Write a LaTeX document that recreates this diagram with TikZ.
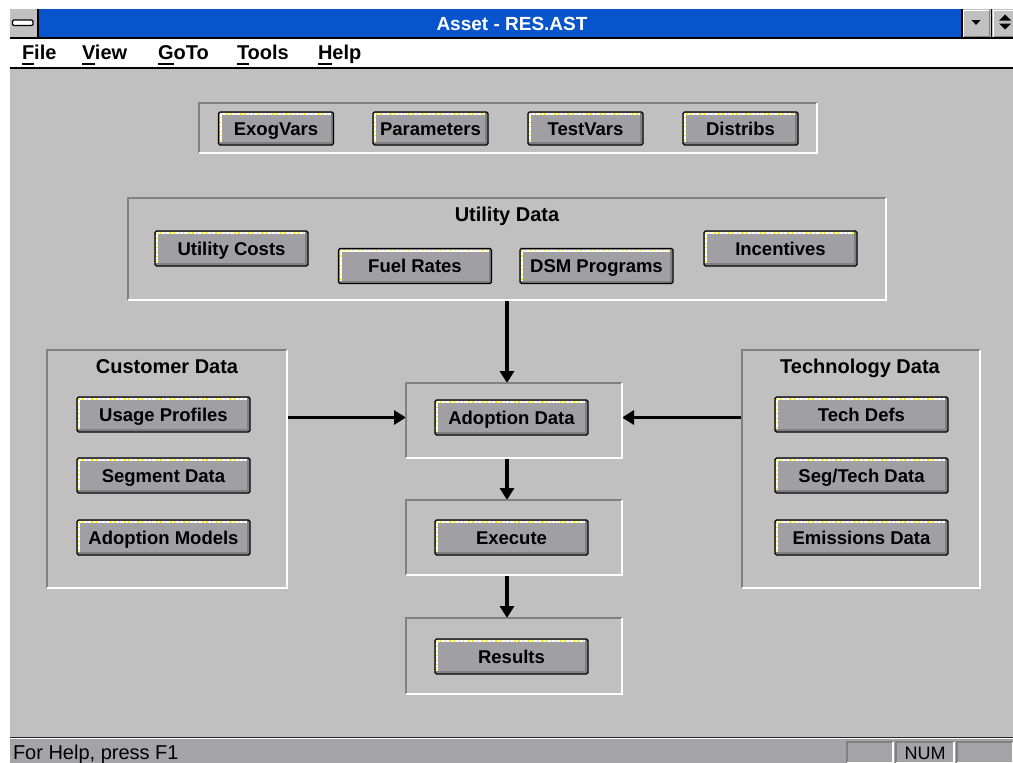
\documentclass[tikz,border=0pt]{standalone}
\usepackage{fontspec}
\setmainfont{Liberation Sans}
\usetikzlibrary{fit,arrows.meta}

\definecolor{facegray}{RGB}{192,192,192}
\definecolor{btnface}{RGB}{160,160,164}
\definecolor{shadowgray}{RGB}{128,128,128}
\definecolor{titleblue}{RGB}{8,84,204}
\definecolor{statusgray}{RGB}{164,164,168}
\definecolor{focusyellow}{RGB}{255,240,0}

% menu entry with its access key underlined
\newcommand\menukey[1]{\setbox0\hbox{#1}\rlap{\rule[-5.5pt]{\wd0}{1.8pt}}#1}

\begin{document}
\begin{tikzpicture}[x=1pt,y=-1pt,
  every node/.style={inner sep=0pt, outer sep=0pt},
  btn/.style={draw=black, line width=1.3pt, fill=btnface, rounded corners=1.5pt,
    font=\bfseries\fontsize{18.5}{20}\selectfont, text height=13.2pt, text depth=0pt,
    path picture={
      \draw[sharp corners, white, line width=2pt]
        ([shift={(2pt,1pt)}]path picture bounding box.south west) |-
        ([shift={(-1pt,-2pt)}]path picture bounding box.north east);
      \draw[sharp corners, shadowgray, line width=2pt]
        ([shift={(1pt,2pt)}]path picture bounding box.south west) -|
        ([shift={(-2pt,-1pt)}]path picture bounding box.north east);
      \draw[sharp corners, focusyellow, line width=1.1pt, dash pattern=on 1.1pt off 3.5pt]
        ([shift={(2pt,4pt)}]path picture bounding box.south west) |-
        ([shift={(-4pt,-2pt)}]path picture bounding box.north east);
    }},
  varsize/.style={minimum width=115pt, minimum height=33pt},
  midsize/.style={minimum width=153pt, minimum height=35pt},
  widesize/.style={minimum width=173pt, minimum height=35pt},
  grp/.style={inner sep=0pt},
  etchdark/.style={draw=shadowgray, line width=2.6pt},
  etchlight/.style={draw=white, line width=2.2pt},
  grptitle/.style={font=\bfseries\fontsize{20}{22}\selectfont, text height=14.3pt, text depth=0pt},
  menuitem/.style={font=\bfseries\fontsize{20}{22}\selectfont, anchor=base west},
  flow/.style={line width=3.6pt, -{Triangle[length=12pt,width=14pt]}},
  panel/.style={draw=none, inner sep=0pt},
]
\useasboundingbox (0,0) rectangle (1013,763);
\fill[white] (0,0) rectangle (1013,763);

% ---- title bar ----
\fill[titleblue] (38,9) rectangle (962,38);
\node[font=\bfseries\fontsize{19}{20}\selectfont, text=white] (caption) at (512,23.5) {Asset - RES.AST};
\fill[facegray] (10,9) rectangle (38,38);
\draw[fill=white, line width=1.3pt, rounded corners=1.2pt] (12.5,20) rectangle (33,25.5);
\fill[facegray] (962,9) rectangle (991,38);
\fill[facegray] (992,9) rectangle (1013,38);
\draw[white, line width=1.2pt] (963.5,37) -- (963.5,10.5) -- (989,10.5);
\draw[shadowgray, line width=1.5pt] (963.5,36.5) -- (989.5,36.5) -- (989.5,10);
\draw[white, line width=1.2pt] (993.5,37) -- (993.5,10.5) -- (1013,10.5);
\draw[shadowgray, line width=1.5pt] (993.5,36.5) -- (1013,36.5);
\fill[black] (971.5,20) -- (980.5,20) -- (976,25) -- cycle;
\fill[black] (999,20.5) -- (1011,20.5) -- (1005,14.5) -- cycle;
\fill[black] (999,23.5) -- (1011,23.5) -- (1005,29.5) -- cycle;
\draw[black, line width=1.2pt] (38,9) -- (38,38);
\draw[black, line width=1.2pt] (962,9) -- (962,38);
\draw[black, line width=1.2pt] (991.5,9) -- (991.5,38);
\draw[black, line width=1.2pt] (10,38) -- (1013,38);

% ---- menu bar ----
\fill[white] (10,38.6) rectangle (1013,67.5);
\node[menuitem] (mfile)  at (22,59)  {\menukey{F}ile};
\node[menuitem] (mview)  at (82,59)  {\menukey{V}iew};
\node[menuitem] (mgoto)  at (158,59) {\menukey{G}oTo};
\node[menuitem] (mtools) at (237,59) {\menukey{T}ools};
\node[menuitem] (mhelp)  at (318,59) {\menukey{H}elp};
\draw[black, line width=1.6pt] (10,68) -- (1013,68);

% ---- client area ----
\fill[facegray] (10,68.8) rectangle (1013,737);

% ---- group frames ----
\node[grp, fit={(199,103) (817,153)}] (vars) {};
\node[grp, fit={(128,198) (886,300)}] (util) {};
\node[grp, fit={(47,350) (287,588)}]  (cust) {};
\node[grp, fit={(742,350) (980,588)}] (tech) {};
\node[grp, fit={(406,383) (622,458)}] (adopt) {};
\node[grp, fit={(406,500) (622,575)}] (exec) {};
\node[grp, fit={(406,618) (622,694)}] (res) {};

\node[grptitle] (utiltitle) at (507,214) {Utility Data};
\node[grptitle] (custtitle) at (167,366) {Customer Data};
\node[grptitle] (techtitle) at (860,366) {Technology Data};

% ---- buttons ----
\node[btn, varsize] (exog)   at (276,128.5)   {ExogVars};
\node[btn, varsize] (params) at (430.5,128.5) {Parameters};
\node[btn, varsize] (testv)  at (585.5,128.5) {TestVars};
\node[btn, varsize] (distr)  at (740.5,128.5) {Distribs};

\node[btn, midsize] (ucost) at (231.5,248.5) {Utility Costs};
\node[btn, midsize] (fuel)  at (415,266)     {Fuel Rates};
\node[btn, midsize] (dsm)   at (596.5,266)   {DSM Programs};
\node[btn, midsize] (incen) at (780.5,248.5) {Incentives};

\node[btn, widesize] (usage) at (163.5,414.5) {Usage Profiles};
\node[btn, widesize] (segm)  at (163.5,475.5) {Segment Data};
\node[btn, widesize] (admod) at (163.5,537.5) {Adoption Models};

\node[btn, widesize] (tdefs) at (861.5,414.5) {Tech Defs};
\node[btn, widesize] (stech) at (861.5,475.5) {Seg/Tech Data};
\node[btn, widesize] (emis)  at (861.5,537.5) {Emissions Data};

\node[btn, midsize] (adoptbtn) at (511.5,417.5) {Adoption Data};
\node[btn, midsize] (execbtn)  at (511.5,537.5) {Execute};
\node[btn, midsize] (resbtn)   at (511.5,656.5) {Results};

% ---- connectors ----
\draw[flow] (util.south) -- (util.south |- adopt.north);
\draw[flow] (cust.east |- adoptbtn) -- (adopt.west |- adoptbtn);
\draw[flow] (tech.west |- adoptbtn) -- (adopt.east |- adoptbtn);
\draw[flow] (util.south |- adopt.south) -- (util.south |- exec.north);
\draw[flow] (util.south |- exec.south) -- (util.south |- res.north);

% etched frame edges
\foreach \f in {vars,util,cust,tech,adopt,exec,res} {
  \draw[etchdark] (\f.south west) |- (\f.north east);
  \draw[etchlight] (\f.south west) -| (\f.north east);
}

% ---- status bar ----
\draw[black!85, line width=1.6pt] (10,737.6) -- (1013,737.6);
\fill[statusgray] (10,739) rectangle (1013,763);
\node[font=\fontsize{20}{22}\selectfont, anchor=base west] (help) at (13,759) {For Help, press F1};
\node[panel, fit={(847,742) (893,763)}] (capsp) {};
\node[panel, fit={(896,742) (954,763)}] (nump) {};
\node[font=\fontsize{18}{20}\selectfont, anchor=base] (numtext) at (nump.center |- 0,759) {NUM};
\node[panel, fit={(957,742) (1013,763)}] (scrlp) {};
\foreach \p in {capsp,nump,scrlp} {
  \draw[shadowgray, line width=1.2pt] (\p.south west) |- (\p.north east);
  \draw[white, line width=1.2pt] (\p.south west) -| (\p.north east);
}
\end{tikzpicture}
\end{document}
